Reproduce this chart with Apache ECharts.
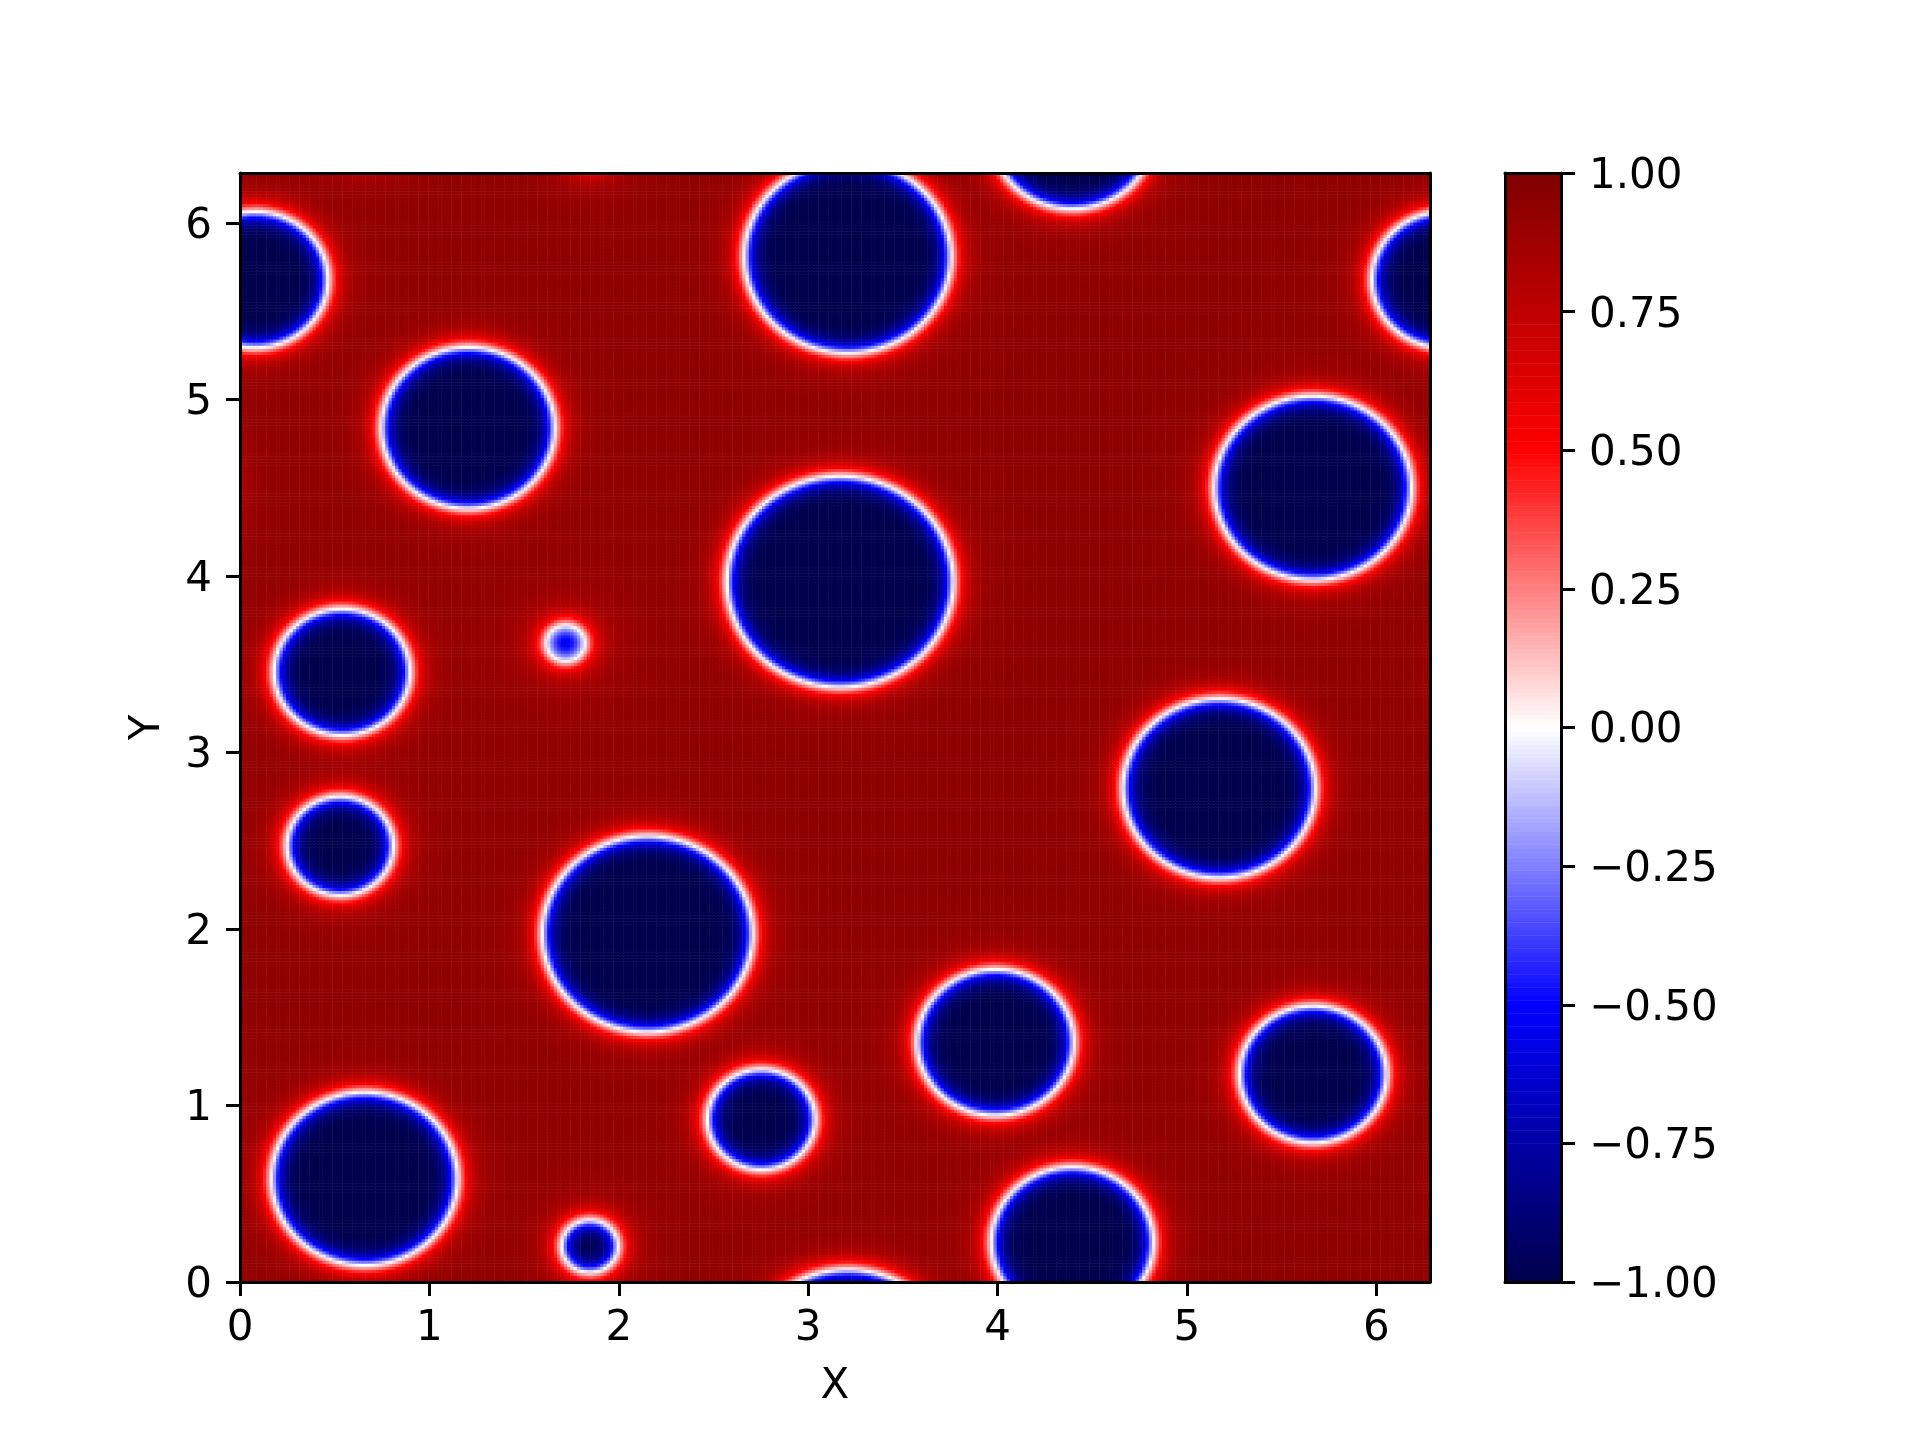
<!DOCTYPE html>
<html><head><meta charset="utf-8">
<script src="https://cdn.jsdelivr.net/npm/echarts@6/dist/echarts.min.js"></script>
<style>html,body{margin:0;padding:0;background:#fff}#c{width:1920px;height:1440px}</style>
</head><body><div id="c"></div>
<script>
// Droplets (centre x, centre y, radius in axis units)
const circleX    = [0.08, 3.21, 1.206, 5.666, 3.170, 0.54, 1.721, 0.53, 5.171, 2.153, 3.99, 5.667, 2.754, 0.659, 1.848, 4.396];
const circleY    = [5.68, 5.81, 4.84, 4.50, 3.969, 3.457, 3.62, 2.472, 2.798, 1.973, 1.359, 1.178, 0.922, 0.586, 0.204, 0.225];
const circleR    = [0.385, 0.545, 0.457, 0.52, 0.597, 0.358, 0.10, 0.28, 0.507, 0.555, 0.413, 0.387, 0.284, 0.49, 0.148, 0.427];
// depth of the droplet core (1 = fully -1 inside)
const circleCore = [1, 1, 1, 1, 1, 1, 0.6, 1, 1, 1, 1, 1, 1, 1, 1, 1];
// strength of the faint lighter halo around each droplet
const circleHalo = [0.03, 0.03, 0.03, 0.03, 0.03, 0.035, 0.09, 0.04, 0.03, 0.03, 0.035, 0.035, 0.04, 0.03, 0.05, 0.035];

const xTicks  = [0, 1, 2, 3, 4, 5, 6];
const yTicks  = [0, 1, 2, 3, 4, 5, 6];
const cbTicks = [-1, -0.75, -0.5, -0.25, 0, 0.25, 0.5, 0.75, 1];
const seismic = ['#00004c', '#0000ff', '#ffffff', '#ff0000', '#7f0000'];

const DOMAIN = 2 * Math.PI;
const NX = 360, NY = 360;
const W = 0.064, BG = 0.95, HALO_L = 0.25, NEAR_A = 0.2, NEAR_L = 0.09;

function wrap(d) {
  d = d % DOMAIN;
  if (d > DOMAIN / 2) d -= DOMAIN;
  if (d < -DOMAIN / 2) d += DOMAIN;
  return d;
}

const xCats = [], yCats = [];
for (let i = 0; i < NX; i++) xCats.push(String(i));
for (let j = 0; j < NY; j++) yCats.push(String(j));

const field = [];
for (let j = 0; j < NY; j++) {
  const y = (j + 0.5) * DOMAIN / NY;
  for (let i = 0; i < NX; i++) {
    const x = (i + 0.5) * DOMAIN / NX;
    let minS = Infinity, minK = -1, halo = 0;
    for (let k = 0; k < circleX.length; k++) {
      const dx = wrap(x - circleX[k]), dy = wrap(y - circleY[k]);
      const s = Math.sqrt(dx * dx + dy * dy) - circleR[k];
      if (s < minS) { minS = s; minK = k; }
      if (s > 0) halo += circleHalo[k] * Math.exp(-s / HALO_L);
    }
    let v;
    if (minS < 0) v = -circleCore[minK] * Math.tanh(-minS / W);
    else v = Math.tanh(minS / W) * (BG - halo - NEAR_A * Math.exp(-minS / NEAR_L));
    field.push([i, j, Math.round(v * 1000) / 1000]);
  }
}

const NC = 256;
const cbCats = [], cbData = [];
for (let j = 0; j < NC; j++) {
  cbCats.push(String(j));
  cbData.push([0, j, -1 + 2 * (j + 0.5) / NC]);
}

const black = '#000';
const lineOnly = (extra) => Object.assign({
  axisLine: { show: true, onZero: false, lineStyle: { color: black, width: 3 } },
  axisTick: { show: false }, axisLabel: { show: false }, splitLine: { show: false }, z: 10
}, extra);

const fmtCb = v => '{t|' + (v < 0 ? '\u2212' : '') + Math.abs(v).toFixed(2) + '}';
const richT = { t: { fontSize: 42, color: black, fontFamily: 'DejaVu Sans', padding: [8, 0, 0, 0] } };

const chart = echarts.init(document.getElementById('c'), null, { renderer: 'canvas' });
chart.setOption({
  animation: false,
  backgroundColor: '#fff',
  textStyle: { fontFamily: 'DejaVu Sans' },
  grid: [
    { left: 240, right: 490, top: 173, bottom: 158 },
    { left: 1505, right: 359, top: 173, bottom: 158 }
  ],
  xAxis: [
    lineOnly({ type: 'category', gridIndex: 0, position: 'top', data: xCats }),
    {
      type: 'value', gridIndex: 0, position: 'bottom', min: 0, max: DOMAIN, interval: 1, z: 10,
      axisLine: { show: true, onZero: false, lineStyle: { color: black, width: 3 } },
      axisTick: { show: true, length: 14, lineStyle: { color: black, width: 3 }, customValues: xTicks },
      axisLabel: { customValues: xTicks, fontSize: 42, color: black, margin: 26, fontFamily: 'DejaVu Sans',
        formatter: v => Number.isInteger(v) ? String(v) : '' },
      splitLine: { show: false },
      name: 'X', nameLocation: 'middle', nameGap: 84,
      nameTextStyle: { fontSize: 42, color: black, fontFamily: 'DejaVu Sans' }
    },
    lineOnly({ type: 'category', gridIndex: 1, position: 'bottom', data: ['c'] }),
    lineOnly({ type: 'category', gridIndex: 1, position: 'top', data: ['c'] })
  ],
  yAxis: [
    lineOnly({ type: 'category', gridIndex: 0, position: 'right', data: yCats }),
    {
      type: 'value', gridIndex: 0, position: 'left', min: 0, max: DOMAIN, interval: 1, z: 10,
      axisLine: { show: true, onZero: false, lineStyle: { color: black, width: 3 } },
      axisTick: { show: true, length: 14, lineStyle: { color: black, width: 3 }, customValues: yTicks },
      axisLabel: { customValues: yTicks, fontSize: 42, color: black, margin: 28, fontFamily: 'DejaVu Sans',
        rich: richT, formatter: v => Number.isInteger(v) ? '{t|' + v + '}' : '' },
      splitLine: { show: false },
      name: 'Y', nameLocation: 'middle', nameGap: 71,
      nameTextStyle: { fontSize: 42, color: black, fontFamily: 'DejaVu Sans' }
    },
    lineOnly({ type: 'category', gridIndex: 1, position: 'left', data: cbCats }),
    {
      type: 'value', gridIndex: 1, position: 'right', min: -1, max: 1, interval: 0.25, z: 10,
      axisLine: { show: true, onZero: false, lineStyle: { color: black, width: 3 } },
      axisTick: { show: true, length: 14, lineStyle: { color: black, width: 3 }, customValues: cbTicks },
      axisLabel: { customValues: cbTicks, fontSize: 42, color: black, margin: 28, fontFamily: 'DejaVu Sans',
        rich: richT, formatter: fmtCb },
      splitLine: { show: false }
    }
  ],
  visualMap: {
    type: 'continuous', show: false, min: -1, max: 1, dimension: 2, seriesIndex: [0, 1],
    inRange: { color: seismic }
  },
  series: [
    { type: 'heatmap', xAxisIndex: 0, yAxisIndex: 0, data: field, progressive: 0, silent: true,
      emphasis: { disabled: true } },
    { type: 'heatmap', xAxisIndex: 2, yAxisIndex: 2, data: cbData, progressive: 0, silent: true,
      emphasis: { disabled: true } }
  ]
});
</script>
</body></html>
